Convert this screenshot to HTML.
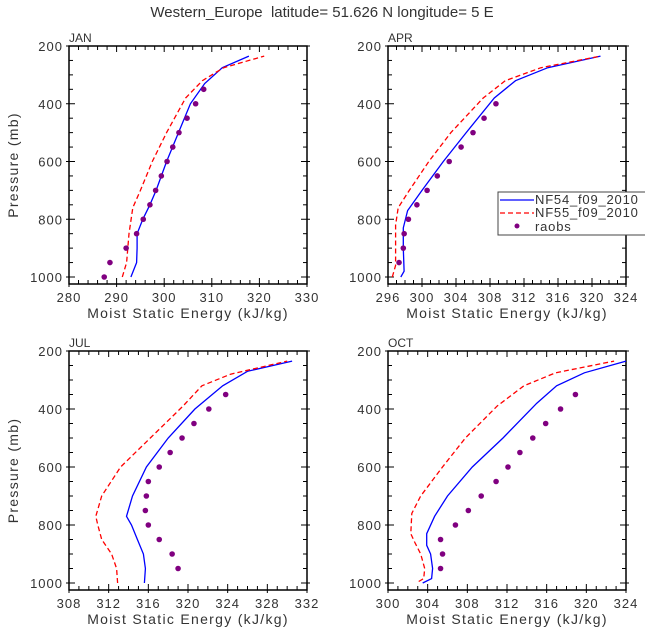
<!DOCTYPE html>
<html><head><meta charset="utf-8"><style>
body{margin:0;background:#fff}
svg{display:block;font-family:"Liberation Sans","DejaVu Sans",sans-serif}
</style></head><body>
<svg id="c" width="645" height="640" viewBox="0 0 645 640">
<text x="322" y="17" text-anchor="middle" font-size="15" fill="#333" style="white-space:pre">Western_Europe  latitude= 51.626 N longitude= 5 E</text>
</svg>
<script>
const janBlue=[[1000,293.0],[950,294.2],[900,294.3],[850,294.3],[800,295.5],[750,297],[700,298.3],[600,300.5],[500,303],[400,305.5],[330,308.5],[275,312.2],[235,317.8]];
const janRed=[[1000,291.2],[950,292.1],[850,292.6],[760,293.4],[700,295],[600,297.5],[500,300.5],[380,304.5],[320,308],[300,310],[275,312.5],[235,321]];
const janObs=[[1000,287.4],[950,288.6],[900,292],[850,294.2],[800,295.6],[750,297],[700,298.2],[650,299.4],[600,300.6],[550,301.8],[500,303.1],[450,304.8],[400,306.6],[350,308.3]];
const aprBlue=[[1000,297.5],[980,297.9],[900,297.8],[830,297.8],[770,298.3],[700,300],[600,302.5],[500,305.2],[380,308.5],[320,311],[275,314.8],[235,321]];
const aprRed=[[1000,296.5],[960,296.9],[900,296.9],[820,296.9],[760,297.2],[700,298.5],[600,300.8],[500,303.4],[380,307.2],[320,309.8],[275,314],[235,321]];
const aprObs=[[950,297.3],[900,297.8],[850,297.9],[800,298.4],[750,299.4],[700,300.6],[650,301.8],[600,303.2],[550,304.6],[500,306],[450,307.3],[400,308.7]];
const julBlue=[[1000,315.6],[950,315.7],[900,315.5],[850,314.9],[800,314.3],[770,313.8],[700,314.4],[600,315.8],[500,318],[400,320.7],[320,323.5],[270,326],[235,330.5]];
const julRed=[[1000,312.9],[950,312.8],[900,312.3],[850,311.3],[800,310.9],[770,310.7],[700,311.3],[600,313.2],[500,316.2],[390,319.5],[320,321.4],[280,324.3],[235,330]];
const julObs=[[950,319],[900,318.4],[850,317.1],[800,316],[750,315.7],[700,315.8],[650,316],[600,317.1],[550,318.2],[500,319.4],[450,320.6],[400,322.1],[350,323.8]];
const octBlue=[[1000,303.5],[985,304.4],[950,304.5],[900,304.3],[870,303.9],[830,303.9],[770,304.7],[700,306],[600,308.5],[500,311.6],[380,315],[320,317],[275,319.8],[235,324]];
const octRed=[[995,303.1],[985,303.6],[950,303.7],[900,303.3],[860,302.7],[830,302.3],[760,302.4],[700,303.3],[600,305.5],[500,307.8],[390,311],[320,313.7],[275,316.9],[235,322.8]];
const octObs=[[950,305.3],[900,305.5],[850,305.3],[800,306.8],[750,308.1],[700,309.4],[650,310.9],[600,312.1],[550,313.3],[500,314.6],[450,315.9],[400,317.4],[350,318.9]];
const janTicks=[280,290,300,310,320,330];
const aprTicks=[296,300,304,308,312,316,320,324];
const julTicks=[308,312,316,320,324,328,332];
const octTicks=[300,304,308,312,316,320,324];
const pTicks=[200,400,600,800,1000];

const svg=document.getElementById('c');
const NS='http://www.w3.org/2000/svg';
function mk(t,a,p){const e=document.createElementNS(NS,t);for(const k in a)e.setAttribute(k,a[k]);(p||svg).appendChild(e);return e;}

function panel(name,L,R,T,B,ticks,minorDiv,blue,red,obs,showY,xlab){
  const g=mk('g',{});
  
  
  const x0=ticks[0],x1=ticks[ticks.length-1];
  const y1000=B-7;
  const sx=v=>L+(v-x0)/(x1-x0)*(R-L);
  const sy=p=>T+(p-200)/800*(y1000-T);
  const frame=mk('rect',{x:L,y:T,width:R-L,height:B-T,fill:'none',stroke:'#000','stroke-width':1.5},g);
  
  
  const step=(ticks[1]-ticks[0])/minorDiv;
  for(let v=x0;v<=x1+1e-6;v+=step){
    const major=Math.abs(((v-x0)/(ticks[1]-ticks[0]))-Math.round((v-x0)/(ticks[1]-ticks[0])))<1e-6;
    const len=major?6:4;
    mk('line',{x1:sx(v),x2:sx(v),y1:B,y2:B-len,stroke:'#000'},g);
    mk('line',{x1:sx(v),x2:sx(v),y1:T,y2:T+len,stroke:'#000'},g);
    if(major){mk('line',{x1:sx(v),x2:sx(v),y1:B,y2:B+3,stroke:'#000'},g);}
  }
  ticks.forEach(v=>{const t=mk('text',{x:sx(v),y:B+18,'text-anchor':'middle','font-size':13,'letter-spacing':1,fill:'#333'},g);t.textContent=v;
    });
  for(let p=200;p<=1000;p+=50){
    const major=p%200===0, len=major?6:4;
    mk('line',{x1:L,x2:L+len,y1:sy(p),y2:sy(p),stroke:'#000'},g);
    mk('line',{x1:R,x2:R-len,y1:sy(p),y2:sy(p),stroke:'#000'},g);
    if(major){mk('line',{x1:L-3,x2:L,y1:sy(p),y2:sy(p),stroke:'#000'},g);mk('line',{x1:R,x2:R+3,y1:sy(p),y2:sy(p),stroke:'#000'},g);}
  }
  pTicks.forEach(p=>{const t=mk('text',{x:L-6,y:sy(p)+5,'text-anchor':'end','font-size':13,'letter-spacing':1,fill:'#333'},g);t.textContent=p;
    });
  const lab=mk('text',{x:L,y:T-4,'font-size':12,fill:'#333'},g);lab.textContent=name.toUpperCase();
  
  const xl=mk('text',{x:(L+R)/2,y:B+34,'text-anchor':'middle','font-size':14,'letter-spacing':1.3,fill:'#333'},g);xl.textContent=xlab;
  
  if(showY){const yl=mk('text',{x:0,y:0,'text-anchor':'middle','font-size':14,'letter-spacing':1.3,fill:'#333',transform:`translate(18,${(T+B)/2}) rotate(-90)`},g);yl.textContent='Pressure (mb)';
    }
  const pts=a=>a.map(d=>sx(d[1]).toFixed(1)+','+sy(d[0]).toFixed(1)).join(' ');
  const b=mk('polyline',{points:pts(blue),fill:'none',stroke:'#0000ff','stroke-width':1.3},g);
  
  const r=mk('polyline',{points:pts(red),fill:'none',stroke:'#ff0000','stroke-width':1.3,'stroke-dasharray':'5,3'},g);
  
  obs.forEach(d=>{const c=mk('circle',{cx:sx(d[1]),cy:sy(d[0]),r:2.8,fill:'#800080'},g);
    });
}
const XL='Moist Static Energy (kJ/kg)';
panel('jan',69,307,46,284,janTicks,5,janBlue,janRed,janObs,true,XL);
panel('apr',388,626,46,284,aprTicks,4,aprBlue,aprRed,aprObs,false,XL);
panel('jul',69,307,351,590,julTicks,4,julBlue,julRed,julObs,true,XL);
panel('oct',388,626,351,590,octTicks,4,octBlue,octRed,octObs,false,XL);

const lg=mk('g',{});


mk('rect',{x:498,y:192,width:160,height:43,fill:'#fff',stroke:'#444'},lg);
mk('line',{x1:500,x2:534,y1:200,y2:200,stroke:'#0000ff','stroke-width':1.3},lg);
mk('line',{x1:500,x2:534,y1:213,y2:213,stroke:'#ff0000','stroke-width':1.3,'stroke-dasharray':'5,3'},lg);
mk('circle',{cx:517,cy:226,r:2.5,fill:'#800080'},lg);
[['NF54_f09_2010',204],['NF55_f09_2010',217],['raobs',231]].forEach(([t,y])=>{const e=mk('text',{x:535,y:y,'font-size':13,'letter-spacing':0.8,fill:'#333'},lg);e.textContent=t;
  });
</script>
</body></html>
